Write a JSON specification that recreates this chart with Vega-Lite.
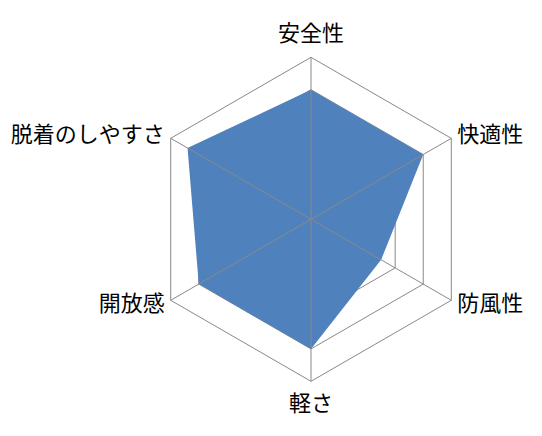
{
  "$schema": "https://vega.github.io/schema/vega-lite/v6.json",
  "width": 542,
  "height": 436,
  "padding": 0,
  "autosize": {"type": "none"},
  "config": {"view": {"stroke": null}, "font": "Noto Sans CJK JP"},
  "datasets": {
    "scores": [
      {"axis": "安全性", "order": 0, "value": 4},
      {"axis": "快適性", "order": 1, "value": 4},
      {"axis": "防風性", "order": 2, "value": 2.5},
      {"axis": "軽さ", "order": 3, "value": 4},
      {"axis": "開放感", "order": 4, "value": 4},
      {"axis": "脱着のしやすさ", "order": 5, "value": 4.4}
    ],
    "grid": [
      {"level": 1, "order": 0}, {"level": 1, "order": 1}, {"level": 1, "order": 2}, {"level": 1, "order": 3}, {"level": 1, "order": 4}, {"level": 1, "order": 5},
      {"level": 2, "order": 0}, {"level": 2, "order": 1}, {"level": 2, "order": 2}, {"level": 2, "order": 3}, {"level": 2, "order": 4}, {"level": 2, "order": 5},
      {"level": 3, "order": 0}, {"level": 3, "order": 1}, {"level": 3, "order": 2}, {"level": 3, "order": 3}, {"level": 3, "order": 4}, {"level": 3, "order": 5},
      {"level": 4, "order": 0}, {"level": 4, "order": 1}, {"level": 4, "order": 2}, {"level": 4, "order": 3}, {"level": 4, "order": 4}, {"level": 4, "order": 5},
      {"level": 5, "order": 0}, {"level": 5, "order": 1}, {"level": 5, "order": 2}, {"level": 5, "order": 3}, {"level": 5, "order": 4}, {"level": 5, "order": 5}
    ]
  },
  "layer": [
    {
      "data": {"name": "grid"},
      "transform": [
        {"calculate": "datum.level * 32.4 * sin(datum.order * PI / 3)", "as": "gx"},
        {"calculate": "datum.level * 32.4 * cos(datum.order * PI / 3)", "as": "gy"}
      ],
      "mark": {"type": "line", "interpolate": "linear-closed", "stroke": "#898989", "strokeWidth": 1},
      "encoding": {
        "x": {"field": "gx", "type": "quantitative", "scale": {"domain": [-311, 231], "nice": false, "zero": false}, "axis": null},
        "y": {"field": "gy", "type": "quantitative", "scale": {"domain": [-216.7, 219.3], "nice": false, "zero": false}, "axis": null},
        "detail": {"field": "level", "type": "nominal"},
        "order": {"field": "order", "type": "quantitative"}
      }
    },
    {
      "data": {"name": "scores"},
      "transform": [
        {"calculate": "datum.value * 32.4 * sin(datum.order * PI / 3)", "as": "gx"},
        {"calculate": "datum.value * 32.4 * cos(datum.order * PI / 3)", "as": "gy"}
      ],
      "mark": {"type": "line", "interpolate": "linear-closed", "filled": true, "color": "#4F81BD", "fillOpacity": 1, "strokeWidth": 0},
      "encoding": {
        "x": {"field": "gx", "type": "quantitative", "axis": null},
        "y": {"field": "gy", "type": "quantitative", "axis": null},
        "order": {"field": "order", "type": "quantitative"}
      }
    },
    {
      "data": {"name": "scores"},
      "transform": [
        {"calculate": "5 * 32.4 * sin(datum.order * PI / 3)", "as": "gx"},
        {"calculate": "5 * 32.4 * cos(datum.order * PI / 3)", "as": "gy"},
        {"calculate": "0", "as": "cx"}
      ],
      "mark": {"type": "rule", "stroke": "#898989", "strokeWidth": 1},
      "encoding": {
        "x": {"field": "gx", "type": "quantitative", "axis": null},
        "y": {"field": "gy", "type": "quantitative", "axis": null},
        "x2": {"field": "cx"},
        "y2": {"field": "cx"}
      }
    },
    {
      "data": {"name": "scores"},
      "transform": [
        {"filter": "datum.order == 0 || datum.order == 3"},
        {"calculate": "185 * sin(datum.order * PI / 3)", "as": "gx"},
        {"calculate": "185 * cos(datum.order * PI / 3)", "as": "gy"}
      ],
      "mark": {"type": "text", "align": "center", "baseline": "middle", "fontSize": 22, "color": "#000000", "font": "Noto Sans CJK JP"},
      "encoding": {
        "x": {"field": "gx", "type": "quantitative", "axis": null},
        "y": {"field": "gy", "type": "quantitative", "axis": null},
        "text": {"field": "axis", "type": "nominal"}
      }
    },
    {
      "data": {"name": "scores"},
      "transform": [
        {"filter": "datum.order == 1 || datum.order == 2"},
        {"calculate": "169 * sin(datum.order * PI / 3)", "as": "gx"},
        {"calculate": "169 * cos(datum.order * PI / 3)", "as": "gy"}
      ],
      "mark": {"type": "text", "align": "left", "baseline": "middle", "fontSize": 22, "color": "#000000", "font": "Noto Sans CJK JP"},
      "encoding": {
        "x": {"field": "gx", "type": "quantitative", "axis": null},
        "y": {"field": "gy", "type": "quantitative", "axis": null},
        "text": {"field": "axis", "type": "nominal"}
      }
    },
    {
      "data": {"name": "scores"},
      "transform": [
        {"filter": "datum.order == 4 || datum.order == 5"},
        {"calculate": "169 * sin(datum.order * PI / 3)", "as": "gx"},
        {"calculate": "169 * cos(datum.order * PI / 3)", "as": "gy"}
      ],
      "mark": {"type": "text", "align": "right", "baseline": "middle", "fontSize": 22, "color": "#000000", "font": "Noto Sans CJK JP"},
      "encoding": {
        "x": {"field": "gx", "type": "quantitative", "axis": null},
        "y": {"field": "gy", "type": "quantitative", "axis": null},
        "text": {"field": "axis", "type": "nominal"}
      }
    }
  ]
}
